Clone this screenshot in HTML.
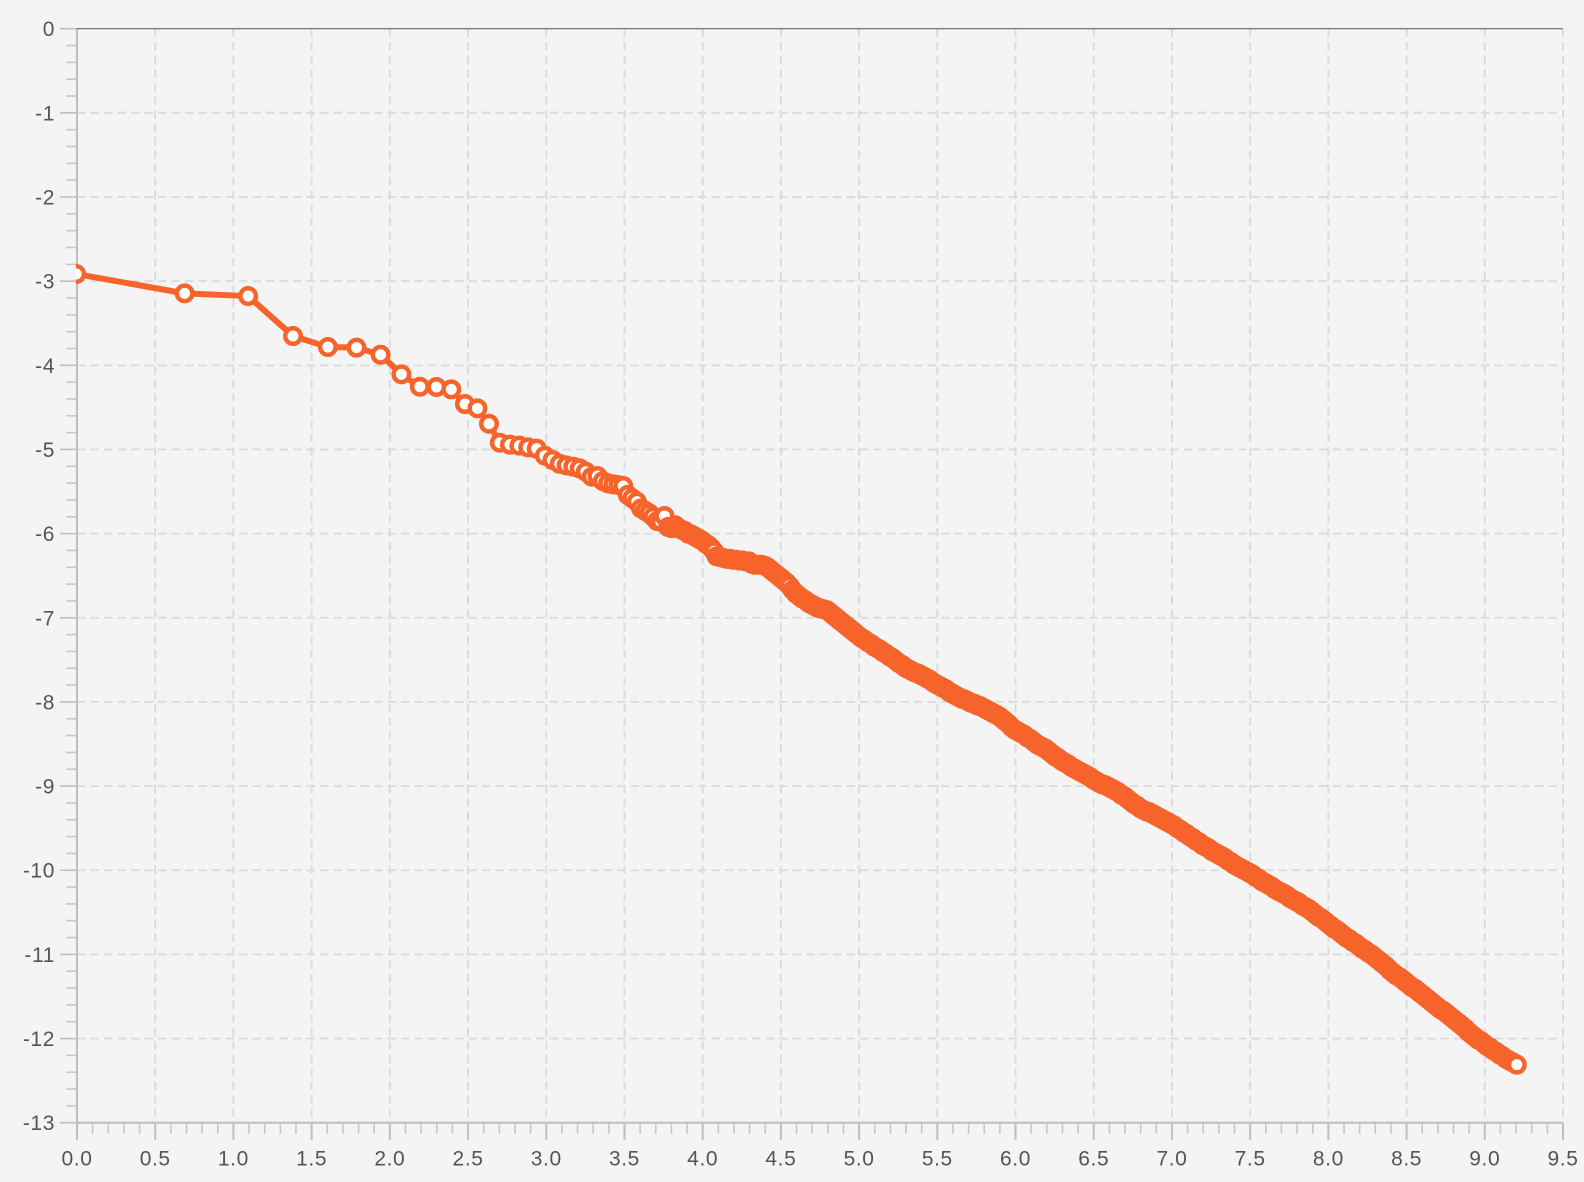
<!DOCTYPE html>
<html lang="en">
<head>
<meta charset="utf-8">
<title>Log-log rank chart</title>
<style>
html,body{margin:0;padding:0;background:#f4f4f4;width:1584px;height:1182px;overflow:hidden}
svg{display:block}
text{font-family:"Liberation Sans",sans-serif;font-size:21px;fill:#555;letter-spacing:.6px}
</style>
</head>
<body>
<svg id="chart" xmlns="http://www.w3.org/2000/svg" width="1584" height="1182" viewBox="0 0 1584 1182">
<rect x="0" y="0" width="1584" height="1182" fill="#f4f4f4"/>
<defs><clipPath id="plot-clip"><rect x="76" y="0" width="1508" height="1182"/></clipPath></defs>
<g id="grid"></g>
<g id="axes"></g>
<g id="series" clip-path="url(#plot-clip)"></g>
</svg>
<script>
const xTickLabels = ["0.0","0.5","1.0","1.5","2.0","2.5","3.0","3.5","4.0","4.5","5.0","5.5","6.0","6.5","7.0","7.5","8.0","8.5","9.0","9.5"];
const yTickLabels = ["0","-1","-2","-3","-4","-5","-6","-7","-8","-9","-10","-11","-12","-13"];

const seriesX = [
0,.693,1.099,1.386,1.609,1.792,1.946,2.079,2.197,2.303,2.398,2.485,2.565,2.639,2.708,2.773,2.833,2.890,2.944,2.996,
3.045,3.091,3.135,3.178,3.219,3.258,3.296,3.332,3.367,3.401,3.434,3.466,3.497,3.526,3.555,3.584,3.611,3.638,3.664,3.689,
3.714,3.738,3.761,3.784,3.807,3.829,3.850,3.871,3.892,3.912,3.932,3.951,3.970,3.989,4.007,4.025,4.043,4.060,4.078,4.094,
4.12,4.14,4.16,4.18,4.20,4.22,4.24,4.26,4.28,4.30,4.32,4.34,4.36,4.38,4.40,4.42,4.44,4.46,4.48,4.50,
4.52,4.54,4.56,4.58,4.60,4.62,4.64,4.66,4.68,4.70,4.72,4.74,4.76,4.78,4.80,4.82,4.84,4.86,4.88,4.90,
4.92,4.94,4.96,4.98,5.00,5.02,5.04,5.06,5.08,5.10,5.12,5.14,5.16,5.18,5.20,5.22,5.24,5.26,5.28,5.30,
5.32,5.34,5.36,5.38,5.40,5.42,5.44,5.46,5.48,5.50,5.52,5.54,5.56,5.58,5.60,5.62,5.64,5.66,5.68,5.70,
5.72,5.74,5.76,5.78,5.80,5.82,5.84,5.86,5.88,5.90,5.92,5.94,5.96,5.98,6.00,6.02,6.04,6.06,6.08,6.10,
6.12,6.14,6.16,6.18,6.20,6.22,6.24,6.26,6.28,6.30,6.32,6.34,6.36,6.38,6.40,6.42,6.44,6.46,6.48,6.50,
6.52,6.54,6.56,6.58,6.60,6.62,6.64,6.66,6.68,6.70,6.72,6.74,6.76,6.78,6.80,6.82,6.84,6.86,6.88,6.90,
6.92,6.94,6.96,6.98,7.00,7.02,7.04,7.06,7.08,7.10,7.12,7.14,7.16,7.18,7.20,7.22,7.24,7.26,7.28,7.30,
7.32,7.34,7.36,7.38,7.40,7.42,7.44,7.46,7.48,7.50,7.52,7.54,7.56,7.58,7.60,7.62,7.64,7.66,7.68,7.70,
7.72,7.74,7.76,7.78,7.80,7.82,7.84,7.86,7.88,7.90,7.92,7.94,7.96,7.98,8.00,8.02,8.04,8.06,8.08,8.10,
8.12,8.14,8.16,8.18,8.20,8.22,8.24,8.26,8.28,8.30,8.32,8.34,8.36,8.38,8.40,8.42,8.44,8.46,8.48,8.50,
8.52,8.54,8.56,8.58,8.60,8.62,8.64,8.66,8.68,8.70,8.72,8.74,8.76,8.78,8.80,8.82,8.84,8.86,8.88,8.90,
8.92,8.94,8.96,8.98,9.00,9.02,9.04,9.06,9.08,9.10,9.12,9.14,9.16,9.18,9.20,9.21
];

const seriesY = [
-2.915,-3.145,-3.177,-3.652,-3.783,-3.79,-3.874,-4.107,-4.254,-4.258,-4.286,-4.46,-4.511,-4.694,-4.92,-4.943,-4.955,-4.975,-4.99,-5.074,
-5.125,-5.17,-5.19,-5.205,-5.225,-5.264,-5.324,-5.315,-5.376,-5.403,-5.415,-5.423,-5.434,-5.54,-5.58,-5.62,-5.70,-5.73,-5.76,-5.80,
-5.85,-5.86,-5.79,-5.92,-5.935,-5.90,-5.93,-5.955,-5.97,-6.00,-6.01,-6.03,-6.05,-6.07,-6.09,-6.12,-6.14,-6.17,-6.21,-6.27,
-6.28,-6.29,-6.30,-6.30,-6.31,-6.31,-6.32,-6.32,-6.33,-6.33,-6.36,-6.37,-6.37,-6.37,-6.38,-6.40,-6.43,-6.46,-6.49,-6.52,
-6.55,-6.58,-6.62,-6.67,-6.71,-6.74,-6.77,-6.79,-6.82,-6.84,-6.86,-6.88,-6.89,-6.90,-6.91,-6.94,-6.97,-7.00,-7.03,-7.06,
-7.09,-7.12,-7.15,-7.18,-7.21,-7.24,-7.26,-7.29,-7.31,-7.34,-7.36,-7.38,-7.41,-7.43,-7.46,-7.48,-7.51,-7.54,-7.56,-7.59,
-7.61,-7.63,-7.65,-7.66,-7.68,-7.70,-7.72,-7.74,-7.77,-7.79,-7.81,-7.83,-7.85,-7.88,-7.90,-7.92,-7.94,-7.96,-7.97,-7.99,
-8.01,-8.02,-8.04,-8.05,-8.07,-8.09,-8.11,-8.13,-8.15,-8.17,-8.20,-8.23,-8.26,-8.30,-8.33,-8.35,-8.37,-8.39,-8.42,-8.44,
-8.47,-8.50,-8.52,-8.54,-8.56,-8.59,-8.62,-8.65,-8.67,-8.70,-8.72,-8.74,-8.77,-8.79,-8.81,-8.83,-8.85,-8.87,-8.89,-8.92,
-8.94,-8.96,-8.98,-8.99,-9.01,-9.03,-9.05,-9.07,-9.10,-9.12,-9.15,-9.18,-9.21,-9.23,-9.26,-9.28,-9.30,-9.31,-9.33,-9.35,
-9.37,-9.39,-9.41,-9.43,-9.45,-9.47,-9.50,-9.52,-9.55,-9.57,-9.60,-9.62,-9.65,-9.67,-9.70,-9.72,-9.74,-9.77,-9.79,-9.81,
-9.83,-9.85,-9.88,-9.90,-9.93,-9.95,-9.97,-9.99,-10.01,-10.03,-10.05,-10.08,-10.10,-10.13,-10.15,-10.17,-10.19,-10.22,-10.24,-10.26,
-10.28,-10.30,-10.33,-10.35,-10.37,-10.39,-10.42,-10.44,-10.46,-10.49,-10.52,-10.55,-10.57,-10.60,-10.63,-10.66,-10.69,-10.71,-10.74,-10.77,
-10.80,-10.82,-10.85,-10.87,-10.90,-10.93,-10.95,-10.98,-11.00,-11.03,-11.06,-11.09,-11.12,-11.15,-11.19,-11.22,-11.25,-11.27,-11.30,-11.33,
-11.36,-11.39,-11.41,-11.44,-11.47,-11.50,-11.53,-11.56,-11.59,-11.62,-11.65,-11.67,-11.70,-11.73,-11.76,-11.79,-11.82,-11.85,-11.88,-11.92,
-11.95,-11.98,-12.01,-12.03,-12.06,-12.09,-12.11,-12.14,-12.16,-12.19,-12.21,-12.24,-12.26,-12.28,-12.30,-12.31
];

const NS = 'http://www.w3.org/2000/svg';
const LEFT = 77, RIGHT = 1563, TOP = 28.7, BOTTOM = 1122.7;
const X_MAX = parseFloat(xTickLabels[xTickLabels.length - 1]);
const Y_MIN = parseFloat(yTickLabels[yTickLabels.length - 1]);
function xScale(v) { return LEFT + (v / X_MAX) * (RIGHT - LEFT); }
function yScale(v) { return TOP + (v / Y_MIN) * (BOTTOM - TOP); }
function seriesPx(v) { return xScale(v) - 0.8; }

function make(tag, attrs, parent) {
  const el = document.createElementNS(NS, tag);
  for (const k in attrs) el.setAttribute(k, attrs[k]);
  parent.appendChild(el);
  return el;
}

const gridG = document.getElementById('grid');
const axesG = document.getElementById('axes');
const seriesG = document.getElementById('series');
const GRID = { stroke: '#dcdcdc', 'stroke-width': 2, 'stroke-dasharray': '8.5 5', fill: 'none' };

const AXIS = '#bfbfbf', MINOR = '#c8c8c8';

// horizontal grid + y ticks
yTickLabels.forEach(function (label) {
  const v = parseFloat(label), y = yScale(v);
  if (v !== 0) {
    const gl = make('line', Object.assign({ x1: LEFT, x2: RIGHT, y1: y, y2: y }, GRID), gridG);
    
    
  }
  const tk = make('line', { x1: 60, x2: LEFT, y1: y, y2: y, stroke: AXIS, 'stroke-width': 1.6 }, axesG);
  
  
  const t = make('text', { x: 55, y: y + 7.5, 'text-anchor': 'end' }, axesG);
  t.textContent = label;
  
  
  if (v > Y_MIN) {
    for (let m = 1; m < 5; m++) {
      const my = yScale(v - m * 0.2);
      const mt = make('line', { x1: 66, x2: LEFT, y1: my, y2: my, stroke: MINOR, 'stroke-width': 1.6 }, axesG);
      
      
    }
  }
});

// vertical grid + x ticks
xTickLabels.forEach(function (label) {
  const v = parseFloat(label), x = xScale(v);
  if (v !== 0) {
    const gl = make('line', Object.assign({ x1: x, x2: x, y1: TOP, y2: BOTTOM }, GRID), gridG);
    
    
  }
  const tk = make('line', { x1: x, x2: x, y1: BOTTOM, y2: 1140, stroke: AXIS, 'stroke-width': 2 }, axesG);
  
  
  const t = make('text', { x: x, y: 1165.5, 'text-anchor': 'middle' }, axesG);
  t.textContent = label;
  
  
  if (v < X_MAX) {
    for (let m = 1; m < 5; m++) {
      const mx = xScale(v + m * 0.1);
      const mt = make('line', { x1: mx, x2: mx, y1: BOTTOM, y2: 1134, stroke: MINOR, 'stroke-width': 1.6 }, axesG);
      
      
    }
  }
});

const yAxis = make('line', { x1: LEFT, x2: LEFT, y1: TOP, y2: 1140, stroke: AXIS, 'stroke-width': 2 }, axesG);


const bottomAxis = make('line', { x1: LEFT, x2: RIGHT, y1: BOTTOM, y2: BOTTOM, stroke: AXIS, 'stroke-width': 2 }, axesG);


const topAxis = make('line', { x1: LEFT, x2: RIGHT, y1: TOP, y2: TOP, stroke: '#666', 'stroke-width': 1.2 }, axesG);



// series
const SERIES_COLOR = '#f6642c';
const d = seriesX.map(function (x, i) {
  return (i ? 'L' : 'M') + seriesPx(x).toFixed(2) + ' ' + yScale(seriesY[i]).toFixed(2);
}).join('');
const linePath = make('path', { d: d, fill: 'none', stroke: SERIES_COLOR, 'stroke-width': 6, 'stroke-linejoin': 'round' }, seriesG);


seriesX.forEach(function (x, i) {
  const c = make('circle', { cx: seriesPx(x).toFixed(2), cy: yScale(seriesY[i]).toFixed(2), r: 7.75, fill: '#fff', stroke: SERIES_COLOR, 'stroke-width': 4.5 }, seriesG);
  
  
});
</script>
</body>
</html>
